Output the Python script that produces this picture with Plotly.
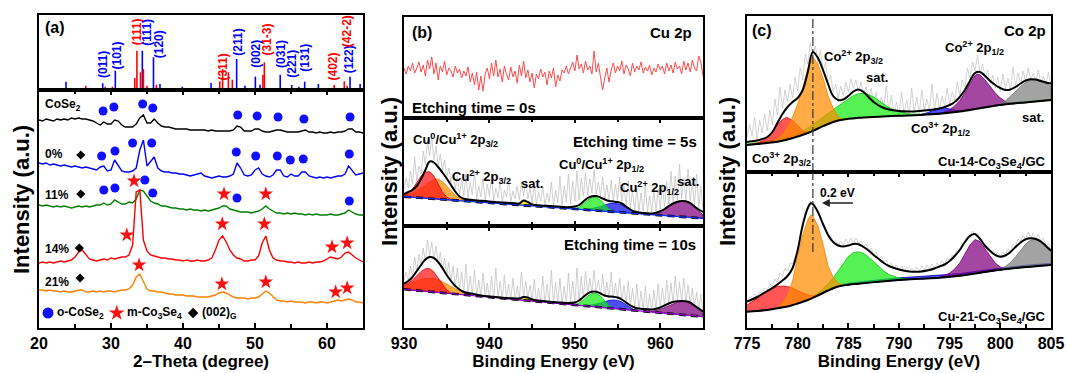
import numpy as np
import plotly.graph_objects as go

FONT = "Liberation Sans, Arial, sans-serif"
W, H = 1066, 373

# ======================= Panel (a) : XRD =======================
TT_START, TT_STEP = 20.0, 0.5
XRD_COSE2 = [208, 207, 209, 208, 207, 209, 208, 209, 208, 210,
             209, 210, 209, 209, 208, 207, 205, 203, 206, 204,
             204, 208, 207, 203, 201, 201, 201, 204, 210, 213,
             205, 205, 209, 205, 202, 201, 201, 200, 199, 199,
             199, 199, 198, 198, 198, 198, 198, 197, 198, 197,
             197, 197, 197, 197, 198, 202, 201, 197, 197, 197,
             199, 199, 197, 196, 196, 197, 198, 198, 197, 196,
             196, 196, 196, 197, 198, 196, 196, 195, 196, 195,
             195, 196, 195, 196, 196, 197, 199, 199, 196, 196,
             195]
XRD_0 = [165, 164, 165, 163, 164, 163, 162, 163, 162, 161,
         162, 161, 160, 161, 160, 159, 158, 161, 162, 157,
         158, 168, 163, 157, 156, 156, 157, 160, 178, 188,
         162, 166, 171, 160, 157, 156, 156, 155, 155, 154,
         154, 153, 152, 153, 154, 155, 152, 151, 150, 151,
         152, 151, 151, 152, 154, 165, 160, 153, 152, 153,
         158, 160, 154, 152, 151, 153, 158, 158, 152, 151,
         154, 152, 152, 156, 156, 152, 151, 150, 151, 150,
         151, 150, 151, 152, 152, 154, 162, 158, 153, 154,
         155]
XRD_11 = [123, 122, 123, 122, 121, 122, 121, 122, 121, 120,
          121, 122, 121, 122, 121, 122, 123, 123, 125, 123,
          124, 128, 126, 124, 124, 126, 125, 129, 138, 137,
          132, 127, 125, 124, 122, 122, 121, 120, 120, 119,
          119, 118, 119, 118, 118, 117, 118, 117, 118, 119,
          120, 122, 122, 119, 118, 117, 116, 116, 116, 115,
          116, 117, 119, 122, 119, 117, 115, 115, 114, 115,
          114, 115, 114, 114, 113, 114, 113, 114, 113, 113,
          113, 114, 113, 113, 114, 115, 118, 116, 114, 113,
          113]
XRD_14 = [65, 66, 65, 66, 65, 66, 67, 66, 67, 68,
          71, 76, 78, 73, 69, 68, 67, 68, 69, 68,
          70, 69, 70, 71, 71, 73, 83, 136, 138, 88,
          77, 73, 72, 71, 70, 70, 69, 69, 68, 68,
          67, 68, 67, 67, 68, 67, 67, 68, 70, 78,
          88, 92, 86, 78, 73, 70, 69, 67, 67, 68,
          68, 72, 85, 92, 78, 70, 68, 67, 67, 66,
          66, 65, 66, 65, 65, 66, 65, 66, 66, 67,
          69, 71, 70, 69, 71, 75, 76, 73, 70, 68,
          66]
XRD_21 = [38, 38, 37, 38, 37, 37, 36, 37, 36, 36,
          37, 38, 38, 36, 36, 37, 36, 37, 36, 37,
          37, 36, 37, 38, 38, 39, 43, 51, 54, 47,
          39, 37, 37, 36, 36, 35, 34, 34, 33, 33,
          33, 32, 32, 32, 31, 31, 31, 31, 32, 33,
          35, 36, 35, 33, 31, 30, 30, 30, 29, 30,
          30, 31, 34, 37, 35, 31, 28, 27, 27, 26,
          27, 26, 26, 26, 25, 26, 26, 25, 26, 26,
          25, 26, 27, 28, 27, 28, 29, 28, 26, 26,
          25]

STICK_BLUE_POS = [23.75, 28.85, 30.6, 34.35, 35.9, 36.8, 39.9, 43.9, 47.45, 48.6, 50.05,
                  50.7, 53.5, 55.1, 56.1, 56.9, 58.8, 59.9, 60.9, 63.2, 64.6]
STICK_BLUE_H = [8.3, 6.7, 19.3, 39.3, 32.7, 6, 3.3, 7, 31, 4.3, 13.3,
                5.3, 15.3, 5, 3.3, 8.3, 6, 2, 2, 13.3, 6]
STICK_RED_POS = [26.5, 29.2, 30.2, 33.3, 33.6, 34.1, 34.5, 35.0, 36.3, 39.4, 39.8, 44.8,
                 45.1, 45.5, 46.1, 46.3, 46.85, 47.1, 47.8, 51.1, 51.3, 52.8, 54.0, 54.2,
                 54.4, 59.1, 60.2, 61.0, 62.4, 62.8, 63.6]
STICK_RED_H = [4.3, 3.3, 3.3, 12, 39.3, 17.7, 21, 4.3, 5.3, 2, 2, 2,
               8.7, 21, 2, 17.7, 10.3, 2, 2, 15.3, 27.7, 2, 2, 2,
               2, 2, 2, 5, 8.7, 4.3, 2]
HKL_LABELS = ["(011)", "(101)", "(111)", "(111)", "(120)", "(311)", "(211)", "(002)",
              "(31-3)", "(031)", "(221)", "(131)", "(402)", "(122)", "(42-2)"]
HKL_POS = [28.9, 30.9, 33.65, 34.95, 36.7, 45.5, 47.6, 50.1, 51.6, 53.6, 55.1, 56.9,
           60.9, 63.1, 62.8]
HKL_LEVEL = [25, 35, 58, 58, 46, 23, 48, 36, 50, 36, 26, 32, 24, 31, 59]
HKL_PHASE = ["o", "o", "m", "o", "o", "m", "o", "o", "m", "o", "o", "o", "m", "o", "m"]

CIRCLE_X = [28.9, 30.4, 34.4, 35.8, 47.6, 50.3, 53.2, 56.8, 63.2,
            28.7, 30.55, 33.0, 35.65, 47.4, 50.1, 53.1, 54.9, 56.7, 63.1,
            29.0, 30.55, 34.7, 35.8, 47.5, 63.1]
CIRCLE_Y = [217, 221, 224, 220, 213, 212, 211, 209, 211,
            172, 177, 185, 185, 176, 172, 172, 168, 169, 174,
            138, 140, 148, 135, 130, 127]
STAR_X = [33.2, 45.7, 51.5, 32.2, 45.45, 51.3, 60.7, 62.8, 33.9, 45.4, 51.5, 61.2, 62.8]
STAR_Y = [147, 134, 134, 93, 104, 104, 81, 85, 63, 44, 46, 36, 40]
DIAMOND_X = [25.8, 25.8, 25.6, 25.7]
DIAMOND_Y = [173, 134, 80, 50]
SAMPLE_NAMES = ["CoSe<sub>2</sub>", "0%", "11%", "14%", "21%"]
SAMPLE_LEVEL = [223, 174, 133, 79, 46]

# ======================= Panel (b) : Cu 2p =======================
BE_B_START, BE_B_STEP = 930.0, 0.25
CU_0S = [50, 44, 52, 47, 55, 45, 50, 56,
         46, 53, 42, 58, 49, 61, 44, 55,
         38, 52, 46, 57, 43, 50, 47, 41,
         52, 45, 49, 40, 47, 42, 51, 36,
         45, 33, 46, 28, 42, 27, 44, 50,
         39, 55, 42, 58, 41, 49, 36, 52,
         44, 38, 51, 41, 47, 35, 53, 42,
         57, 40, 48, 36, 45, 30, 44, 39,
         49, 41, 46, 33, 47, 40, 50, 31,
         43, 37, 48, 45, 52, 44, 50, 56,
         47, 63, 49, 54, 45, 57, 48, 52,
         44, 67, 46, 55, 41, 28, 40, 50,
         36, 48, 55, 45, 52, 47, 57, 44,
         53, 49, 42, 55, 46, 52, 48, 56,
         45, 51, 47, 53, 43, 50, 46, 54,
         48, 52, 44, 55, 47, 53, 45, 56,
         49, 52, 44, 57, 48, 55, 46, 58,
         50, 47, 62, 56, 42]
CU_5S_RAW = [36, 48, 38, 55, 42, 69, 45, 60,
             52, 75, 61, 86, 70, 89, 66, 80,
             60, 72, 55, 66, 48, 58, 44, 53,
             37, 50, 32, 46, 30, 52, 28, 44,
             31, 55, 27, 40, 29, 48, 26, 42,
             30, 50, 25, 38, 28, 45, 24, 36,
             29, 47, 24, 35, 27, 40, 26, 44,
             30, 46, 27, 38, 23, 41, 22, 34,
             25, 39, 21, 33, 24, 44, 20, 36,
             23, 50, 21, 40, 24, 52, 22, 45,
             25, 55, 26, 48, 30, 53, 31, 47,
             33, 56, 32, 44, 30, 49, 27, 41,
             26, 46, 25, 42, 26, 49, 24, 40,
             21, 45, 18, 36, 16, 38, 15, 33,
             15, 40, 14, 30, 14, 35, 15, 37,
             17, 42, 19, 45, 22, 55, 24, 50,
             26, 62, 27, 48, 26, 57, 25, 44,
             21, 52, 18, 40, 16]
CU_10S_RAW = [48, 56, 47, 62, 52, 71, 56, 74,
              62, 80, 67, 88, 72, 86, 69, 82,
              64, 76, 58, 70, 52, 66, 46, 62,
              41, 60, 38, 56, 35, 64, 34, 52,
              33, 58, 32, 48, 31, 55, 31, 45,
              30, 52, 29, 60, 30, 47, 28, 53,
              29, 44, 28, 50, 28, 42, 29, 56,
              31, 47, 30, 43, 27, 49, 26, 40,
              26, 52, 25, 44, 25, 58, 24, 46,
              24, 50, 24, 42, 24, 55, 25, 47,
              25, 60, 27, 52, 30, 57, 33, 50,
              35, 58, 35, 48, 33, 54, 31, 46,
              30, 56, 30, 45, 29, 50, 27, 43,
              24, 47, 21, 40, 19, 44, 18, 37,
              18, 42, 18, 34, 18, 38, 18, 44,
              20, 40, 22, 48, 24, 45, 25, 52,
              26, 46, 26, 50, 26, 43, 24, 40,
              21, 36, 19, 34, 16]

B_BASE_X = [930, 965]
B5_BASE_Y = [29.3, 7.7]
B10_BASE_Y = [38.7, 11.3]

B5_ENV_X = [930, 930.5, 931, 931.5, 932, 932.5, 933, 933.5, 934, 934.5, 935, 935.5, 936, 936.5,
            937, 938, 939, 940, 941, 942, 943, 943.5, 944, 944.5, 945, 946, 947, 948, 949,
            950, 950.5, 951, 951.5, 952, 952.5, 953, 953.5, 954, 954.5, 955, 955.5, 956,
            956.5, 957, 957.5, 958, 959, 959.5, 960, 960.5, 961, 961.5, 962, 962.5, 963,
            963.5, 964, 964.5, 965]
B5_ENV_Y = [32, 34, 36, 40, 47, 56, 64.5, 63.5, 59, 53.5, 47.5, 41, 34.5, 29.5,
            27.3, 26, 25.3, 24.5, 23.8, 23.2, 22.7, 22.5, 25.5, 24, 21.5, 20.6, 20, 19.4, 18.8,
            19.5, 21, 24.5, 28, 29.8, 30, 28.5, 26.5, 25, 24.5, 24, 22.5, 19.5,
            16.5, 14.5, 13.6, 13, 12.6, 13.3, 14.8, 17, 20, 22.5, 24.2, 25, 24.8,
            23, 19.5, 16.5, 14]
B10_ENV_Y = [44.5, 47, 51, 57, 63, 68.5, 71, 70, 66, 60, 53, 47, 42, 38.5,
             36, 34.2, 32.5, 31.5, 30.7, 30, 29.5, 29.5, 31, 30.5, 28.5, 27.3, 26.3, 25.6, 25,
             25.5, 27.5, 31, 34.5, 36.2, 36.3, 34.5, 32.5, 31.5, 31.3, 30.5, 28.5, 25.5,
             22.5, 20.5, 19.5, 19, 18.5, 19.2, 20.5, 22.5, 24.5, 26, 26.8, 27, 26.8,
             25.5, 22.5, 19.5, 16.5]

B5_RED_X = [930, 930.5, 931, 931.5, 932, 932.5, 933, 933.5, 934, 934.5, 935, 935.5, 936]
B5_RED_Y = [31, 33, 37, 43, 50, 54, 54.3, 50, 42, 34, 29, 26.5, 25.6]
B5_ORG_X = [930, 931, 932, 933, 933.5, 934, 934.5, 935, 935.5, 936, 936.5, 937, 937.5]
B5_ORG_Y = [30, 33, 38, 44, 46.5, 47, 44.5, 40, 35, 30.5, 27.5, 26, 25.0]
B5_YEL_X = [943.25, 943.75, 944.1, 944.5, 945]
B5_YEL_Y = [21.2, 23.5, 25.2, 23.5, 20.2]
B5_GRN_X = [950, 950.5, 951, 951.5, 952, 952.5, 953, 953.5, 954, 954.5]
B5_GRN_Y = [17.2, 18.8, 22, 26, 28.3, 28.5, 26, 21, 17, 14.8]
B5_BLU_X = [951, 952, 953, 953.5, 954, 954.5, 955, 955.5, 956, 956.5, 957, 957.5]
B5_BLU_Y = [16.6, 17.5, 19.5, 21, 22.3, 22.7, 22.3, 21, 18.5, 16, 13.9, 12.6]
B5_PUR_X = [959, 959.5, 960, 960.5, 961, 961.5, 962, 962.5, 963, 963.5, 964, 964.5, 965]
B5_PUR_Y = [11.6, 12.5, 14, 16.5, 19.5, 22, 23.8, 24.5, 24.3, 22.5, 19, 14.5, 11]

B10_RED_X = [930, 930.5, 931, 931.5, 932, 932.5, 933, 933.5, 934, 934.5, 935, 935.5, 936]
B10_RED_Y = [43, 45, 48, 52, 56.5, 59.3, 59.5, 56, 50, 43, 38, 35, 34.2]
B10_ORG_X = [930, 930.5, 931, 931.5, 932, 932.5, 933, 933.5, 934, 934.5, 935, 935.5, 936,
             936.5, 937, 937.5, 938]
B10_ORG_Y = [42.5, 44, 46, 47.5, 48.7, 49.5, 49.7, 49.5, 48.3, 46.5, 44, 41.5, 39,
             37, 35, 33.6, 32.7]
B10_YEL_X = [943.25, 943.75, 944.1, 944.5, 945.25]
B10_YEL_Y = [28.4, 29.8, 30.8, 29.5, 26.9]
B10_GRN_X = [950, 950.5, 951, 951.5, 952, 952.5, 953, 953.5, 954, 954.5]
B10_GRN_Y = [23.2, 24.8, 28, 32, 34.5, 34.5, 32, 27, 22.5, 19.6]
B10_BLU_X = [951, 952, 953, 953.5, 954, 954.5, 955, 955.5, 956, 956.5, 957, 957.5]
B10_BLU_Y = [22.4, 23, 25, 26.5, 27.6, 28, 27.6, 26, 23, 20.2, 17.8, 17.2]
B10_PUR_X = [958.5, 959, 959.5, 960, 960.5, 961, 961.5, 962, 962.5, 963, 963.5, 964, 964.5, 965]
B10_PUR_Y = [16.5, 16.7, 17.4, 18.6, 20.5, 22.8, 24.6, 25.8, 26.3, 26.2, 25, 22.3, 19, 15.5]

# ======================= Panel (c) : Co 2p =======================
BE_C_START, BE_C_STEP = 775.0, 0.25
CO14_RAW = [34, 48, 36, 55, 33, 52, 39, 58,
            41, 62, 47, 73, 57, 85, 64, 82,
            70, 88, 74, 95, 81, 104, 92, 118,
            108, 129, 117, 126, 110, 122, 100, 110,
            89, 97, 80, 88, 74, 86, 76, 90,
            80, 93, 84, 92, 80, 90, 77, 85,
            72, 84, 68, 80, 64, 75, 66, 86,
            60, 77, 58, 70, 57, 80, 58, 72,
            56, 84, 59, 75, 58, 82, 61, 73,
            60, 88, 62, 79, 63, 76, 66, 84,
            68, 80, 72, 90, 77, 92, 85, 104,
            94, 110, 101, 117, 99, 108, 93, 102,
            88, 97, 84, 95, 80, 98, 83, 94,
            81, 105, 86, 99, 88, 101, 90, 104,
            92, 99, 90, 102, 89, 96, 87, 100,
            87]
CO21_RAW = [28, 31, 29, 34, 32, 36, 35, 40,
            38, 44, 42, 49, 46, 55, 52, 60,
            57, 65, 64, 72, 78, 92, 100, 115,
            118, 127, 122, 121, 114, 112, 102, 100,
            91, 92, 86, 88, 82, 87, 83, 89,
            84, 90, 85, 90, 84, 87, 81, 84,
            77, 80, 73, 76, 69, 72, 66, 68,
            62, 65, 60, 63, 58, 62, 57, 61,
            56, 60, 56, 61, 57, 62, 58, 63,
            59, 64, 60, 65, 62, 67, 64, 70,
            68, 73, 72, 78, 78, 85, 86, 92,
            92, 97, 94, 95, 89, 88, 82, 82,
            77, 78, 73, 76, 72, 76, 73, 79,
            77, 84, 82, 89, 86, 93, 89, 96,
            90, 95, 89, 94, 87, 90, 82, 85,
            78]

C_BASE_X = [775, 776, 777, 778, 779, 780, 781, 782, 783, 784, 785, 786, 788, 790, 792, 794,
            796, 798, 800, 802, 804, 805]
C14_BASE_Y = [27, 28, 29, 30.3, 32.5, 35.5, 39, 43.5, 48, 51.5, 53.3, 54.2, 55.3, 56.3, 57,
              58.2, 60.5, 63.8, 67, 69.2, 71, 72]
C21_BASE_Y = [16.3, 17, 18, 19.7, 21.5, 24.5, 28, 32.5, 37.5, 41.5, 43.3, 44.3, 46.3, 48,
              49.2, 50.3, 52.2, 55.2, 58.2, 60.5, 62.2, 63]

C14_ENV_X = [775, 775.5, 776, 776.5, 777, 777.5, 778, 778.5, 779, 779.5, 780, 780.5, 781,
             781.5, 782, 782.5, 783, 783.5, 784, 784.5, 785, 785.5, 786, 786.5, 787, 787.5,
             788, 788.5, 789, 790, 791, 792, 793, 794, 795, 795.5, 796, 796.5, 797, 797.5,
             798, 798.5, 799, 799.5, 800, 800.5, 801, 801.5, 802, 802.5, 803, 803.5, 804,
             804.5, 805]
C14_ENV_Y = [30, 30.8, 31.5, 33, 35, 40, 49, 58, 65, 70, 74, 82, 100,
             120, 114, 102, 88, 76, 72, 72.5, 76, 80.5, 82.5, 80, 75, 70,
             66.5, 64, 62.5, 61, 60.5, 61, 62, 63.5, 67, 70, 75, 82, 91, 99,
             100, 96, 91, 87, 84, 82, 82.5, 85, 88.5, 91.5, 92.8, 92.5, 91,
             89.5, 88.5]
C21_ENV_X = [775, 775.5, 776, 776.5, 777, 777.5, 778, 778.5, 779, 779.5, 780, 780.5, 781,
             781.3, 781.5, 782, 782.5, 783, 783.5, 784, 784.5, 785, 785.5, 786, 786.5, 787,
             787.5, 788, 788.5, 789, 790, 791, 792, 793, 793.5, 794, 794.5, 795, 795.5, 796,
             796.5, 797, 797.4, 797.5, 798, 798.5, 799, 799.5, 800, 800.5, 801, 801.5, 802,
             802.5, 803, 803.5, 804, 804.5, 805]
C21_ENV_Y = [26.3, 28.5, 31, 34, 37, 40, 43.5, 47.5, 52, 60, 78, 103, 120,
             124.7, 124, 116, 104, 93, 86, 82.5, 81.5, 82.5, 84, 83.8, 81, 77.5,
             73, 69, 65, 62, 58.5, 56.5, 56.3, 58, 59.5, 61.5, 63.5, 67, 72, 78,
             86, 92, 94, 93.8, 89, 82, 77, 73, 71.3, 72.5, 76, 81, 85.5,
             88.7, 89.7, 89, 86.5, 82, 77.3]

C14_RED_X = [775.5, 776, 776.5, 777, 777.5, 778, 778.5, 778.9, 779.5, 780, 780.5, 781]
C14_RED_Y = [27.8, 29, 31, 34.5, 40, 47, 52.5, 54.7, 51.5, 46, 41.5, 39.3]
C14_ORG_X = [777.5, 778, 778.5, 779, 779.5, 780, 780.5, 781, 781.5, 782, 782.5, 783, 783.5,
             784, 784.5]
C14_ORG_Y = [30, 33.5, 38, 45, 55, 68, 84, 104, 115, 108, 94, 76, 64, 55, 52.6]
C14_GRN_X = [775, 776, 777, 778, 779, 780, 781, 782, 783, 784, 785, 785.5, 786, 786.5, 787,
             787.5, 788, 788.5, 789, 790, 791, 792, 794, 796, 798, 800, 802, 804, 805]
C14_GRN_Y = [28, 29.2, 30.5, 32, 34.7, 38.5, 44, 51, 58.5, 66, 73.5, 76.5, 78.3, 78.7, 77.5,
             75, 71.5, 68, 64.5, 60, 58, 57.8, 59, 61.3, 64.6, 67.8, 70, 71.8, 72.8]
C14_BLU_X = [792, 792.5, 793, 793.5, 794, 794.5, 795, 795.5, 796]
C14_BLU_Y = [57.2, 58.2, 60, 62.3, 63.8, 64.2, 63.2, 61.8, 60.7]
C14_PUR_X = [794, 794.5, 795, 795.5, 796, 796.5, 797, 797.5, 797.75, 798, 798.5, 799, 799.5,
             800, 800.5, 801, 801.5]
C14_PUR_Y = [58.5, 60, 62.5, 66, 71.5, 79, 88, 96.5, 98, 97, 92, 85.5, 79, 74, 70.5, 68.8,
             68.7]
C14_GRY_X = [799.5, 800, 800.5, 801, 801.5, 802, 802.5, 803, 803.5, 804, 804.5, 805]
C14_GRY_Y = [66.4, 68, 71, 75.5, 80.5, 85.5, 89.5, 91.8, 92, 90.8, 88.5, 86]

C21_RED_X = [775, 775.5, 776, 776.5, 777, 777.5, 778, 778.5, 779, 779.5, 780, 780.5, 781,
             781.5, 782, 782.5]
C21_RED_Y = [23, 26, 29.5, 33.5, 37, 39.8, 41.5, 42, 41.5, 40, 37.5, 35, 33, 32.2, 33, 35.2]
C21_ORG_X = [778, 778.5, 779, 779.5, 780, 780.5, 781, 781.3, 781.5, 782, 782.5, 783, 783.5,
             784, 784.5]
C21_ORG_Y = [21, 25, 33, 47, 72, 93, 108, 113, 112, 102, 84, 62, 51, 45, 42.8]
C21_GRN_X = [780, 781, 782, 783, 783.5, 784, 784.5, 785, 785.5, 786, 786.5, 787, 787.5, 788,
             788.5, 789, 790, 791, 792]
C21_GRN_Y = [25, 29, 35, 44, 50, 57, 65, 71.5, 75.5, 76.2, 74.5, 71, 66.5, 61.5, 57, 53.5, 50,
             49, 49.5]
C21_BLU_X = [782, 784, 786, 788, 790, 792, 794, 796, 798, 800, 802, 804, 805]
C21_BLU_Y = [33.2, 43, 46, 48.3, 50.2, 51.5, 52.8, 54.4, 57.2, 60.1, 62.3, 63.9, 64.7]
C21_PUR_X = [794, 794.5, 795, 795.5, 796, 796.5, 797, 797.5, 798, 798.5, 799, 799.5, 800,
             800.5, 801]
C21_PUR_Y = [51, 52.5, 55, 59, 65, 73.5, 83, 88.5, 86.5, 79, 71.5, 65, 61, 59.5, 59.5]
C21_GRY_X = [799.5, 800, 800.5, 801, 801.5, 802, 802.5, 803, 803.5, 804, 804.5, 805]
C21_GRY_Y = [57.5, 59, 61.5, 65.5, 71, 77.5, 84, 88, 88.5, 86, 81.5, 76.5]

CO2_REF_EV = 781.5          # dash-dot reference position
SHIFT_FROM, SHIFT_TO = 785.6, 782.4   # 0.2 eV shift arrow (display)

# ======================= figure =======================
fig = go.Figure()

COL = dict(red="rgba(255,20,20,0.72)", org="rgba(255,140,0,0.72)",
           grn="rgba(20,235,20,0.72)", blu="rgba(10,10,255,0.72)",
           pur="rgba(128,0,128,0.72)", gry="rgba(128,128,128,0.72)",
           yel="rgba(255,230,0,0.9)")
EDGE = dict(red="#e00000", org="#f08000", grn="#10c010", blu="#0000d0",
            pur="#700070", gry="#707070", yel="#d0b000")


def ax(i):
    return ("x" if i == 1 else f"x{i}"), ("y" if i == 1 else f"y{i}")


def add_line(x, y, i, color, width, dash=None, shape="linear"):
    xa, ya = ax(i)
    fig.add_trace(go.Scatter(x=x, y=y, mode="lines", xaxis=xa, yaxis=ya,
                             line=dict(color=color, width=width, dash=dash, shape=shape),
                             hoverinfo="skip", showlegend=False))


def add_comp(xs, ys, bx, by, key, i):
    xs = np.asarray(xs, float)
    base = np.interp(xs, bx, by)
    xa, ya = ax(i)
    fig.add_trace(go.Scatter(x=np.concatenate([xs, xs[::-1]]),
                             y=np.concatenate([np.asarray(ys, float), base[::-1]]),
                             mode="lines", fill="toself", fillcolor=COL[key],
                             line=dict(color=EDGE[key], width=0.8),
                             xaxis=xa, yaxis=ya, hoverinfo="skip", showlegend=False))


def add_markers(x, y, i, symbol, color, size):
    xa, ya = ax(i)
    fig.add_trace(go.Scatter(x=x, y=y, mode="markers", xaxis=xa, yaxis=ya,
                             marker=dict(symbol=symbol, color=color, size=size,
                                         line=dict(width=0)),
                             hoverinfo="skip", showlegend=False))


# ---- (a) sticks
for pos, hts, colr in [(STICK_BLUE_POS, STICK_BLUE_H, "#0000ff"),
                       (STICK_RED_POS, STICK_RED_H, "#ff0000")]:
    sx, sy = [], []
    for p, h in zip(pos, hts):
        sx += [p, p, None]
        sy += [0, h, None]
    add_line(sx, sy, 1, colr, 1.6)

# ---- (a) patterns
for arr, colr in [(XRD_COSE2, "#000000"), (XRD_0, "#0000ff"), (XRD_11, "#008000"),
                  (XRD_14, "#ff0000"), (XRD_21, "#ff8000")]:
    tt = TT_START + TT_STEP * np.arange(len(arr))
    add_line(tt, arr, 2, colr, 1.4)

add_markers(CIRCLE_X, CIRCLE_Y, 2, "circle", "#1010ff", 9)
add_markers(STAR_X, STAR_Y, 2, "star", "#ff1010", 11)
add_markers(DIAMOND_X, DIAMOND_Y, 2, "diamond", "#000000", 7)
# legend keys of panel (a)
add_markers([21.25], [15], 2, "circle", "#1010ff", 11)
add_markers([30.8], [15], 2, "star", "#ff1010", 12)
add_markers([41.4], [15], 2, "diamond", "#000000", 8)

# ---- (b)
be_b = BE_B_START + BE_B_STEP * np.arange(len(CU_0S))
add_line(be_b, CU_0S, 3, "#ff4a4a", 1.0)

for raw, base_y, env_y, comps, blc, i in [
    (CU_5S_RAW, B5_BASE_Y, B5_ENV_Y,
     [(B5_ORG_X, B5_ORG_Y, "org"), (B5_RED_X, B5_RED_Y, "red"), (B5_YEL_X, B5_YEL_Y, "yel"),
      (B5_BLU_X, B5_BLU_Y, "blu"), (B5_GRN_X, B5_GRN_Y, "grn"), (B5_PUR_X, B5_PUR_Y, "pur")],
     "#1030ff", 4),
    (CU_10S_RAW, B10_BASE_Y, B10_ENV_Y,
     [(B10_ORG_X, B10_ORG_Y, "org"), (B10_RED_X, B10_RED_Y, "red"), (B10_YEL_X, B10_YEL_Y, "yel"),
      (B10_BLU_X, B10_BLU_Y, "blu"), (B10_GRN_X, B10_GRN_Y, "grn"), (B10_PUR_X, B10_PUR_Y, "pur")],
     "#8a00c0", 5)]:
    xr = BE_B_START + BE_B_STEP * np.arange(len(raw))
    add_line(xr, raw, i, "#c4c4c4", 0.8)
    for cx, cy, k in comps:
        add_comp(cx, cy, B_BASE_X, base_y, k, i)
    add_line(B_BASE_X, base_y, i, "#000000", 2.6, dash="7px,5px")
    add_line(B_BASE_X, base_y, i, blc, 1.2)
    add_line(B5_ENV_X, env_y, i, "#000000", 2.0, shape="spline")

# ---- (c)
for raw, base_y, env_x, env_y, comps, i in [
    (CO14_RAW, C14_BASE_Y, C14_ENV_X, C14_ENV_Y,
     [(C14_GRN_X, C14_GRN_Y, "grn"), (C14_RED_X, C14_RED_Y, "red"), (C14_ORG_X, C14_ORG_Y, "org"),
      (C14_BLU_X, C14_BLU_Y, "blu"), (C14_PUR_X, C14_PUR_Y, "pur"), (C14_GRY_X, C14_GRY_Y, "gry")], 6),
    (CO21_RAW, C21_BASE_Y, C21_ENV_X, C21_ENV_Y,
     [(C21_BLU_X, C21_BLU_Y, "blu"), (C21_GRN_X, C21_GRN_Y, "grn"), (C21_RED_X, C21_RED_Y, "red"),
      (C21_ORG_X, C21_ORG_Y, "org"), (C21_PUR_X, C21_PUR_Y, "pur"), (C21_GRY_X, C21_GRY_Y, "gry")], 7)]:
    xr = BE_C_START + BE_C_STEP * np.arange(len(raw))
    add_line(xr, raw, i, "#c8c8c8", 0.8)
    for cx, cy, k in comps:
        add_comp(cx, cy, C_BASE_X, base_y, k, i)
    add_line(C_BASE_X, base_y, i, "#000000", 2.0, shape="spline")
    add_line(env_x, env_y, i, "#000000", 2.0, shape="spline")

add_line([CO2_REF_EV, CO2_REF_EV], [0, 156], 6, "#333333", 1.2, dash="dashdot")
add_line([CO2_REF_EV, CO2_REF_EV], [76, 156], 7, "#333333", 1.2, dash="dashdot")

# ======================= layout =======================
def dom_x(a, b):
    return [a / W, b / W]


def dom_y(top, bot):
    return [1 - bot / H, 1 - top / H]


TICKFONT = dict(family=FONT, size=16, color="black", weight="bold")
TITLEFONT = dict(family=FONT, size=17, color="black", weight="bold")


def xax(domain, rng, anchor, labels=False, ticks=False, dtick=10, minor=5, title=None):
    d = dict(domain=domain, range=rng, anchor=anchor, showline=True, linecolor="black",
             linewidth=1.6, mirror=True, showgrid=False, zeroline=False, automargin=False,
             showticklabels=labels, ticks="", fixedrange=True)
    if ticks:
        d.update(ticks="inside", ticklen=5, tickwidth=1.5, tickcolor="black", mirror="ticks",
                 tick0=rng[0], dtick=dtick, tickfont=TICKFONT,
                 minor=dict(dtick=minor, tick0=rng[0], ticks="inside", ticklen=4,
                            tickwidth=1.5, tickcolor="black"))
    if title:
        d["title"] = dict(text=title, font=TITLEFONT, standoff=4)
    return d


def yax(domain, rng, anchor):
    return dict(domain=domain, range=rng, anchor=anchor, showline=True, linecolor="black",
                linewidth=1.6, mirror=True, showgrid=False, zeroline=False,
                showticklabels=False, ticks="", automargin=False, fixedrange=True)


A_X, B_X, C_X = dom_x(39, 363), dom_x(404, 703), dom_x(747, 1051)

layout = dict(
    width=W, height=H, margin=dict(l=0, r=0, t=0, b=0),
    paper_bgcolor="white", plot_bgcolor="white", showlegend=False, hovermode=False,
    font=dict(family=FONT, color="black"),
    xaxis=xax(A_X, [20, 65], "y"),
    yaxis=yax(dom_y(15, 90), [0, 75], "x"),
    xaxis2=xax(A_X, [20, 65], "y2", labels=True, ticks=True, dtick=10, minor=5,
               title="2\u2013Theta (degree)"),
    yaxis2=yax(dom_y(90, 328), [0, 238], "x2"),
    xaxis3=xax(B_X, [930, 965], "y3"),
    yaxis3=yax(dom_y(17, 118), [0, 101], "x3"),
    xaxis4=xax(B_X, [930, 965], "y4", ticks=True, dtick=10, minor=5),
    yaxis4=yax(dom_y(118, 226), [0, 108], "x4"),
    xaxis5=xax(B_X, [930, 965], "y5", labels=True, ticks=True, dtick=10, minor=5,
               title="Binding Energy (eV)"),
    yaxis5=yax(dom_y(226, 328), [0, 102], "x5"),
    xaxis6=xax(C_X, [775, 805], "y6"),
    yaxis6=yax(dom_y(16, 172), [0, 156], "x6"),
    xaxis7=xax(C_X, [775, 805], "y7", labels=True, ticks=True, dtick=5, minor=2.5,
               title="Binding Energy (eV)"),
    yaxis7=yax(dom_y(172, 328), [0, 156], "x7"),
)
fig.update_layout(**layout)
fig.update_xaxes(selector=dict(anchor="y4"), showticklabels=False)


def txt(x, y, text, i, size=13, xanchor="left", color="black", angle=0):
    xa, ya = ax(i)
    return dict(x=x, y=y, xref=xa, yref=ya, text=text, showarrow=False, xanchor=xanchor,
                yanchor="middle", textangle=angle,
                font=dict(family=FONT, size=size, color=color, weight="bold"))


ann = []
# panel (a)
ann.append(txt(20.55, 63, "(a)", 1, size=16))
for lab, p, lv, ph in zip(HKL_LABELS, HKL_POS, HKL_LEVEL, HKL_PHASE):
    ann.append(txt(p, lv, lab, 1, size=12, xanchor="center",
                   color="#0000ff" if ph == "o" else "#ff0000", angle=-90))
for name, lv in zip(SAMPLE_NAMES, SAMPLE_LEVEL):
    ann.append(txt(20.6, lv, name, 2, size=12))
ann.append(txt(22.2, 15, "o-CoSe<sub>2</sub>", 2, size=12))
ann.append(txt(31.9, 15, "m-Co<sub>3</sub>Se<sub>4</sub>", 2, size=12))
ann.append(txt(42.4, 15, "(002)<sub>G</sub>", 2, size=12))
# panel (b)
ann.append(txt(930.7, 86, "(b)", 3, size=16))
ann.append(txt(963.9, 86, "Cu 2p", 3, size=15, xanchor="right"))
ann.append(txt(930.7, 11, "Etching time = 0s", 3, size=15))
ann.append(txt(930.8, 86, "Cu<sup>0</sup>/Cu<sup>1+</sup> 2p<sub>3/2</sub>", 4))
ann.append(txt(935.4, 49, "Cu<sup>2+</sup> 2p<sub>3/2</sub>", 4))
ann.append(txt(943.5, 43, "sat.", 4))
ann.append(txt(964.5, 85, "Etching time = 5s", 4, size=15, xanchor="right"))
ann.append(txt(947.9, 61, "Cu<sup>0</sup>/Cu<sup>1+</sup> 2p<sub>1/2</sub>", 4))
ann.append(txt(955.1, 38, "Cu<sup>2+</sup> 2p<sub>1/2</sub>", 4))
ann.append(txt(961.7, 45, "sat.", 4))
ann.append(txt(964.4, 83, "Etching time = 10s", 5, size=15, xanchor="right"))
# panel (c)
ann.append(txt(775.3, 142, "(c)", 6, size=16))
ann.append(txt(804.7, 142, "Co 2p", 6, size=15, xanchor="right"))
ann.append(txt(782.4, 115, "Co<sup>2+</sup> 2p<sub>3/2</sub>", 6))
ann.append(txt(786.5, 95, "sat.", 6))
ann.append(txt(794.3, 124, "Co<sup>2+</sup> 2p<sub>1/2</sub>", 6))
ann.append(txt(791.0, 43, "Co<sup>3+</sup> 2p<sub>1/2</sub>", 6))
ann.append(txt(804.5, 55, "sat.", 6, xanchor="right"))
ann.append(txt(775.3, 13, "Co<sup>3+</sup> 2p<sub>3/2</sub>", 6))
ann.append(txt(804.7, 10, "Cu-14-Co<sub>3</sub>Se<sub>4</sub>/GC", 6, xanchor="right"))
ann.append(txt(804.7, 11, "Cu-21-Co<sub>3</sub>Se<sub>4</sub>/GC", 7, xanchor="right"))
ann.append(txt(783.9, 135, "0.2 eV", 7, size=12, xanchor="center"))
ann.append(dict(x=SHIFT_TO, y=125, ax=SHIFT_FROM, ay=125, xref="x7", yref="y7",
                axref="x7", ayref="y7", showarrow=True, arrowhead=2, arrowsize=1.2,
                arrowwidth=1.3, arrowcolor="#222222", text=""))
# y-axis titles
for xp, yp in [(21, 200), (389, 172), (727, 172)]:
    ann.append(dict(x=xp / W, y=1 - yp / H, xref="paper", yref="paper",
                    text="Intensity (a.u.)", showarrow=False, textangle=-90,
                    xanchor="center", yanchor="middle",
                    font=dict(family=FONT, size=22, color="black", weight="bold")))
fig.update_layout(annotations=ann)

fig.write_html("out.html")
